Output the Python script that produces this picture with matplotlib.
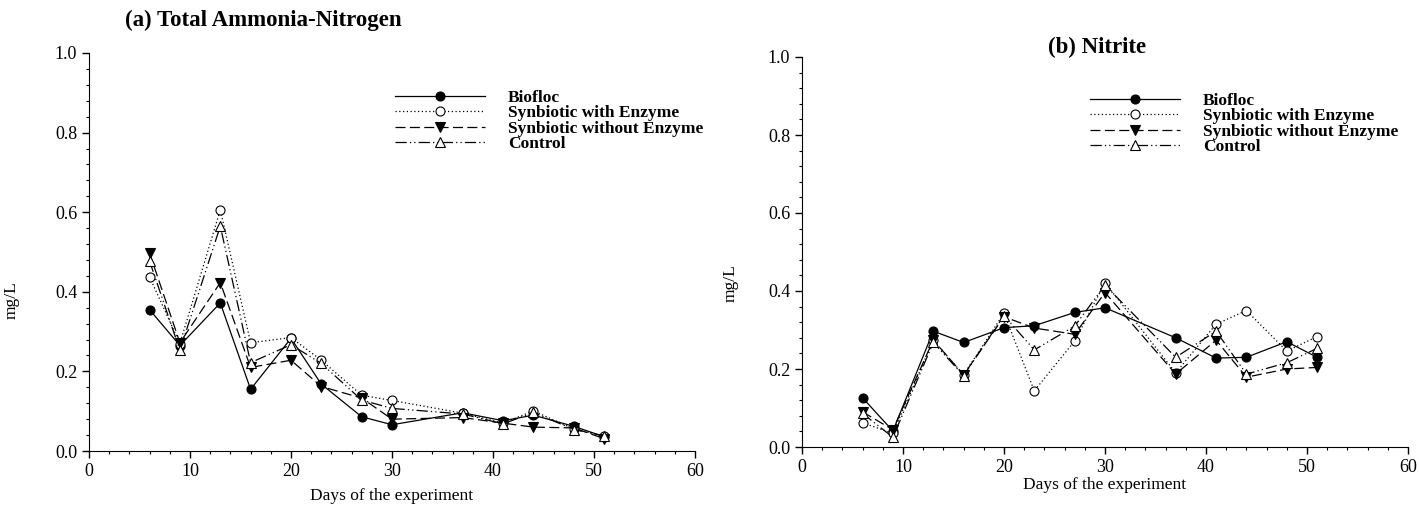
import matplotlib
matplotlib.use("Agg")
import matplotlib.pyplot as plt
from matplotlib.ticker import MultipleLocator, FormatStrFormatter

plt.rcParams["font.family"] = ["Liberation Serif", "DejaVu Serif"]

days = [6, 9, 13, 16, 20, 23, 27, 30, 37, 41, 44, 48, 51]
labels = ["Biofloc", "Synbiotic with Enzyme", "Synbiotic without Enzyme", "Control"]

# (a) Total Ammonia-Nitrogen
tan_biofloc = [0.355, 0.265, 0.372, 0.155, 0.283, 0.168, 0.086, 0.066, 0.096, 0.076, 0.090, 0.062, 0.036]
tan_syn_enz = [0.437, 0.270, 0.606, 0.272, 0.285, 0.228, 0.140, 0.127, 0.095, 0.070, 0.101, 0.055, 0.038]
tan_syn_noenz = [0.497, 0.272, 0.423, 0.210, 0.228, 0.162, 0.133, 0.080, 0.084, 0.070, 0.060, 0.058, 0.031]
tan_control = [0.477, 0.253, 0.565, 0.222, 0.267, 0.220, 0.128, 0.107, 0.093, 0.068, 0.097, 0.054, 0.038]

# (b) Nitrite
no2_biofloc = [0.126, 0.041, 0.297, 0.268, 0.306, 0.311, 0.345, 0.357, 0.280, 0.228, 0.230, 0.270, 0.230]
no2_syn_enz = [0.062, 0.035, 0.274, 0.185, 0.343, 0.144, 0.272, 0.421, 0.190, 0.315, 0.350, 0.246, 0.283]
no2_syn_noenz = [0.090, 0.044, 0.274, 0.185, 0.334, 0.305, 0.289, 0.396, 0.187, 0.274, 0.179, 0.200, 0.204]
no2_control = [0.086, 0.025, 0.268, 0.183, 0.337, 0.249, 0.310, 0.415, 0.230, 0.297, 0.187, 0.216, 0.253]

STYLES = [
    dict(linestyle="-", marker="o", markerfacecolor="black"),
    dict(linestyle=(0, (1, 2)), marker="o", markerfacecolor="white"),
    dict(linestyle=(0, (8, 3.5)), marker="v", markerfacecolor="black"),
    dict(linestyle=(0, (9, 2.5, 1, 2.5, 1, 2.5)), marker="^", markerfacecolor="white"),
]

W, H = 1419, 527
fig = plt.figure(figsize=(W / 100, H / 100), dpi=100)


def make_axes(left, right, top, bottom):
    return fig.add_axes([left / W, 1 - bottom / H, (right - left) / W, (bottom - top) / H])


def style_axes(ax):
    ax.set_xlim(0, 60)
    ax.set_ylim(0, 1.0)
    ax.xaxis.set_major_locator(MultipleLocator(10))
    ax.xaxis.set_minor_locator(MultipleLocator(2))
    ax.yaxis.set_major_locator(MultipleLocator(0.2))
    ax.yaxis.set_minor_locator(MultipleLocator(0.04))
    ax.yaxis.set_major_formatter(FormatStrFormatter("%.1f"))
    ax.spines["top"].set_visible(False)
    ax.spines["right"].set_visible(False)
    ax.tick_params(which="major", length=5, width=1, labelsize=13)
    ax.tick_params(which="minor", length=2.5, width=0.8)
    ax.set_ylabel("mg/L", fontsize=12.5)
    ax.set_xlabel("Days of the experiment", fontsize=12.5)


def draw_series(ax, series):
    for vals, lab, st in zip(series, labels, STYLES):
        ax.plot(days, vals, color="black", linewidth=0.9, markersize=6.5,
                markeredgecolor="black", markeredgewidth=0.8, label=lab, clip_on=False, **st)


def add_legend(ax, x, y):
    ax.legend(loc="upper left", bbox_to_anchor=(x / W, 1 - y / H), bbox_transform=fig.transFigure,
              frameon=False, handlelength=5.2, handletextpad=1.3, labelspacing=-0.05,
              borderpad=0, borderaxespad=0, prop={"weight": "bold", "size": 12.5})


ax_a = make_axes(89, 695, 53, 451)
draw_series(ax_a, [tan_biofloc, tan_syn_enz, tan_syn_noenz, tan_control])
style_axes(ax_a)
ax_a.xaxis.labelpad = 6
ax_a.yaxis.set_label_coords(-0.115, 0.38)
add_legend(ax_a, 395, 90)
fig.text(263 / W, 1 - 20 / H, "(a) Total Ammonia-Nitrogen", ha="center", va="center",
         fontsize=16.5, fontweight="bold")

ax_b = make_axes(802, 1408, 57, 447)
draw_series(ax_b, [no2_biofloc, no2_syn_enz, no2_syn_noenz, no2_control])
style_axes(ax_b)
ax_b.xaxis.labelpad = 1
ax_b.yaxis.set_label_coords(-0.105, 0.42)
add_legend(ax_b, 1090, 93)
fig.text(1097 / W, 1 - 47 / H, "(b) Nitrite", ha="center", va="center",
         fontsize=16.5, fontweight="bold")

fig.savefig("out.png", dpi=100)
